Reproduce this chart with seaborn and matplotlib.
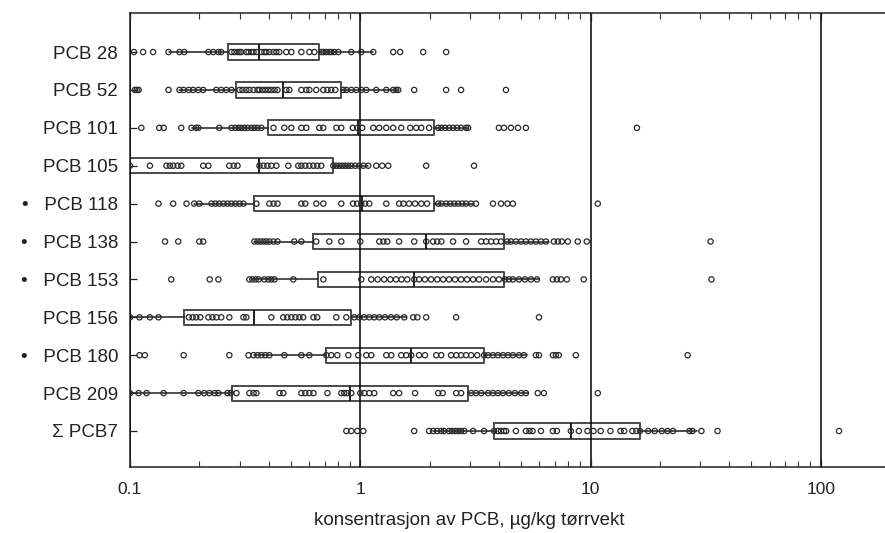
import numpy as np
import pandas as pd
import matplotlib
matplotlib.use("Agg")
import matplotlib.pyplot as plt
import seaborn as sns
from matplotlib.ticker import LogLocator, NullFormatter

# ---------------- data (µg/kg dry weight) ----------------
categories = ["PCB 28", "PCB 52", "PCB 101", "PCB 105", "PCB 118", "PCB 138",
              "PCB 153", "PCB 156", "PCB 180", "PCB 209", "SUM PCB7"]
tick_labels = ["PCB 28", "PCB 52", "PCB 101", "PCB 105", "\u2022   PCB 118",
               "\u2022   PCB 138", "\u2022   PCB 153", "PCB 156", "\u2022   PCB 180",
               "PCB 209", "\u03a3 PCB7"]
x_ticks = [0.1, 1, 10, 100]
x_tick_labels = ["0.1", "1", "10", "100"]

pcb28 = [0.104, 0.114, 0.126, 0.147, 0.164, 0.172, 0.219, 0.23, 0.242, 0.249, 0.276,
         0.284, 0.293, 0.299, 0.304, 0.32, 0.327, 0.337, 0.344, 0.354, 0.372, 0.383,
         0.391, 0.403, 0.42, 0.432, 0.445, 0.477, 0.502, 0.555, 0.601, 0.632, 0.677,
         0.691, 0.712, 0.734, 0.748, 0.771, 0.803, 0.914, 1.01, 1.139, 1.39, 1.49,
         1.876, 2.36]
pcb52 = [0.105, 0.107, 0.109, 0.147, 0.164, 0.171, 0.18, 0.188, 0.198, 0.208, 0.237,
         0.249, 0.262, 0.276, 0.299, 0.308, 0.32, 0.33, 0.344, 0.358, 0.365, 0.376,
         0.387, 0.399, 0.411, 0.424, 0.437, 0.477, 0.492, 0.555, 0.583, 0.601, 0.644,
         0.691, 0.72, 0.748, 0.779, 0.844, 0.87, 0.914, 0.961, 1.01, 1.062, 1.173,
         1.297, 1.39, 1.433, 1.462, 1.715, 2.36, 2.74, 4.29]
pcb101 = [0.112, 0.134, 0.14, 0.167, 0.185, 0.194, 0.198, 0.244, 0.276, 0.287, 0.296,
          0.304, 0.314, 0.324, 0.337, 0.347, 0.358, 0.372, 0.42, 0.468, 0.502, 0.555,
          0.583, 0.664, 0.691, 0.787, 0.827, 0.928, 0.97, 1.02, 1.139, 1.209, 1.297,
          1.39, 1.506, 1.648, 1.75, 1.839, 1.99, 2.18, 2.246, 2.337, 2.432, 2.531,
          2.634, 2.741, 2.882, 2.94, 4.0, 4.21, 4.51, 4.84, 5.24, 15.9]
pcb105 = [0.1, 0.122, 0.144, 0.149, 0.154, 0.161, 0.167, 0.208, 0.219, 0.27, 0.282,
          0.293, 0.365, 0.38, 0.395, 0.411, 0.432, 0.487, 0.538, 0.555, 0.577, 0.601,
          0.626, 0.65, 0.677, 0.764, 0.787, 0.811, 0.835, 0.861, 0.887, 0.914, 0.951,
          0.99, 1.031, 1.083, 1.173, 1.245, 1.323, 1.933, 3.12]
pcb118 = [0.133, 0.154, 0.176, 0.19, 0.2, 0.226, 0.235, 0.244, 0.255, 0.265, 0.276,
          0.287, 0.299, 0.311, 0.354, 0.403, 0.42, 0.437, 0.555, 0.577, 0.644, 0.691,
          0.827, 0.93, 0.97, 1.01, 1.05, 1.094, 1.297, 1.475, 1.54, 1.63, 1.73, 1.84,
          1.95, 2.18, 2.25, 2.36, 2.46, 2.56, 2.66, 2.77, 2.88, 3.03, 3.18, 3.77,
          4.085, 4.36, 4.6, 10.75]
pcb138 = [0.142, 0.162, 0.2, 0.208, 0.347, 0.358, 0.369, 0.38, 0.391, 0.403, 0.42,
          0.437, 0.517, 0.555, 0.644, 0.734, 0.827, 1.0, 1.21, 1.26, 1.31, 1.475,
          1.715, 1.933, 2.07, 2.16, 2.25, 2.53, 2.88, 3.35, 3.52, 3.7, 3.89, 4.085,
          4.35, 4.51, 4.74, 4.99, 5.24, 5.51, 5.79, 6.09, 6.4, 6.93, 7.21, 7.5, 7.97,
          8.8, 9.63, 33.2]
pcb153 = [0.151, 0.222, 0.242, 0.33, 0.34, 0.351, 0.362, 0.383, 0.399, 0.411, 0.424,
          0.512, 0.691, 1.01, 1.116, 1.19, 1.27, 1.35, 1.43, 1.51, 1.6, 1.715, 1.8,
          1.91, 2.03, 2.16, 2.29, 2.43, 2.58, 2.74, 2.91, 3.09, 3.28, 3.52, 3.77, 4.0,
          4.25, 4.42, 4.6, 4.89, 5.19, 5.51, 5.85, 6.86, 7.14, 7.43, 7.89, 9.34, 33.5]
pcb156 = [0.1, 0.11, 0.122, 0.133, 0.18, 0.187, 0.194, 0.202, 0.219, 0.228, 0.237,
          0.249, 0.27, 0.311, 0.32, 0.411, 0.463, 0.482, 0.502, 0.523, 0.544, 0.565,
          0.626, 0.65, 0.787, 0.87, 0.942, 0.99, 1.04, 1.094, 1.15, 1.21, 1.28, 1.36,
          1.44, 1.552, 1.698, 1.77, 1.933, 2.608, 5.97]
pcb180 = [0.11, 0.116, 0.171, 0.27, 0.327, 0.344, 0.358, 0.372, 0.387, 0.403, 0.468,
          0.555, 0.601, 0.712, 0.748, 0.795, 0.887, 0.98, 1.062, 1.116, 1.297, 1.363,
          1.506, 1.583, 1.664, 1.8, 1.91, 2.137, 2.246, 2.48, 2.61, 2.74, 2.88, 3.03,
          3.22, 3.45, 3.59, 3.77, 3.96, 4.17, 4.38, 4.6, 4.89, 5.14, 5.79, 5.97, 6.86,
          7.07, 7.28, 8.63, 26.4]
pcb209 = [0.1, 0.109, 0.118, 0.14, 0.171, 0.198, 0.21, 0.221, 0.233, 0.242, 0.265,
          0.274, 0.29, 0.33, 0.344, 0.354, 0.446, 0.463, 0.555, 0.577, 0.601, 0.626,
          0.72, 0.827, 0.852, 0.878, 0.914, 1.0, 1.041, 1.094, 1.15, 1.39, 1.475, 1.73,
          2.18, 2.28, 2.61, 2.74, 3.03, 3.18, 3.35, 3.59, 3.77, 3.96, 4.17, 4.42, 4.69,
          4.99, 5.24, 5.9, 6.27, 10.75]
sum_pcb7 = [0.87, 0.914, 0.971, 1.031, 1.715, 1.99, 2.07, 2.16, 2.25, 2.31, 2.43, 2.5,
            2.58, 2.66, 2.74, 2.83, 3.09, 3.45, 3.81, 3.96, 4.085, 4.21, 4.3, 4.74, 5.24,
            5.43, 5.6, 6.09, 6.86, 7.14, 8.21, 8.9, 9.7, 10.3, 11.07, 12.2, 13.5, 14.0,
            15.2, 15.8, 16.4, 17.8, 19.0, 20.4, 21.6, 22.8, 26.9, 27.7, 30.3, 35.6, 120.0]

# box statistics (quartiles, median, whisker ends)
q1 =     [0.266, 0.29, 0.399, 0.085, 0.347, 0.626, 0.657, 0.171, 0.712, 0.276, 3.81]
median = [0.365, 0.463, 0.98, 0.365, 1.02, 1.933, 1.715, 0.347, 1.664, 0.9, 8.21]
q3 =     [0.664, 0.827, 2.094, 0.764, 2.094, 4.209, 4.209, 0.914, 3.448, 2.94, 16.4]
whislo = [0.147, 0.164, 0.185, 0.08, 0.19, 0.347, 0.337, 0.1, 0.346, 0.1, 2.07]
whishi = [1.139, 1.462, 2.94, 1.083, 3.12, 6.6, 6.0, 1.58, 5.3, 5.35, 28.9]

series = [pcb28, pcb52, pcb101, pcb105, pcb118, pcb138, pcb153, pcb156, pcb180,
          pcb209, sum_pcb7]

df = pd.DataFrame({
    "congener": np.concatenate([[c] * len(v) for c, v in zip(categories, series)]),
    "value": np.concatenate(series),
})

# ---------------- figure ----------------
sns.set_style("ticks")
plt.rcParams["font.family"] = ["Liberation Sans", "DejaVu Sans"]

fig = plt.figure(figsize=(8.85, 5.33), dpi=100)
ax = fig.add_axes([130 / 885, 1 - 467 / 533, (885 - 130) / 885, (467 - 13) / 533])

sns.stripplot(data=df, x="value", y="congener", order=categories, orient="h",
              jitter=False, size=3.8, linewidth=0.9, color="white",
              edgecolor="#2a2a2a", log_scale=True, ax=ax, zorder=3)
for coll in ax.collections:
    coll.set_facecolor("none")
    coll.set_edgecolor("#2a2a2a")

stats = [dict(q1=a, med=m, q3=b, whislo=lo, whishi=hi, fliers=[])
         for a, m, b, lo, hi in zip(q1, median, q3, whislo, whishi)]
bxp_kw = dict(positions=list(range(len(categories))), widths=0.4, showcaps=False,
              showfliers=False, manage_ticks=False,
              boxprops=dict(color="#4a4a4a", lw=1.4),
              whiskerprops=dict(color="#1e1e1e", lw=1.1),
              medianprops=dict(color="#1e1e1e", lw=1.4), zorder=2)
try:
    ax.bxp(stats, orientation="horizontal", **bxp_kw)
except TypeError:
    ax.bxp(stats, vert=False, **bxp_kw)

ax.set_xscale("log")
ax.set_xlim(0.1, 190)
ax.set_ylim(10.95, -1.03)

ax.set_xticks(x_ticks)
ax.set_xticklabels(x_tick_labels, fontsize=12.5)
ax.xaxis.set_minor_locator(LogLocator(base=10, subs=np.arange(2, 10)))
ax.xaxis.set_minor_formatter(NullFormatter())
ax.grid(axis="x", which="major", color="black", lw=1.1)
ax.set_axisbelow(False)

ax.set_yticks(range(len(categories)))
ax.set_yticklabels(tick_labels, fontsize=13.5)

ax.tick_params(axis="x", which="major", direction="in", length=6, width=0.9,
               top=True, bottom=True, pad=11, colors="#222222")
ax.tick_params(axis="x", which="minor", direction="in", length=4, width=0.8,
               top=True, bottom=True, color="#333333")
ax.tick_params(axis="y", direction="in", length=5, width=0.9, left=True,
               right=False, pad=8.5, colors="#222222")

for s in ["left", "bottom", "top"]:
    ax.spines[s].set_color("#222222")
    ax.spines[s].set_linewidth(1.1)
ax.spines["right"].set_visible(False)

ax.set_xlabel("konsentrasjon av PCB, \u00b5g/kg t\u00f8rrvekt", fontsize=13.5,
              color="#222222")
ax.set_ylabel("")
ax.xaxis.set_label_coords(0.45, -0.1)

fig.savefig("out.png", dpi=100)
